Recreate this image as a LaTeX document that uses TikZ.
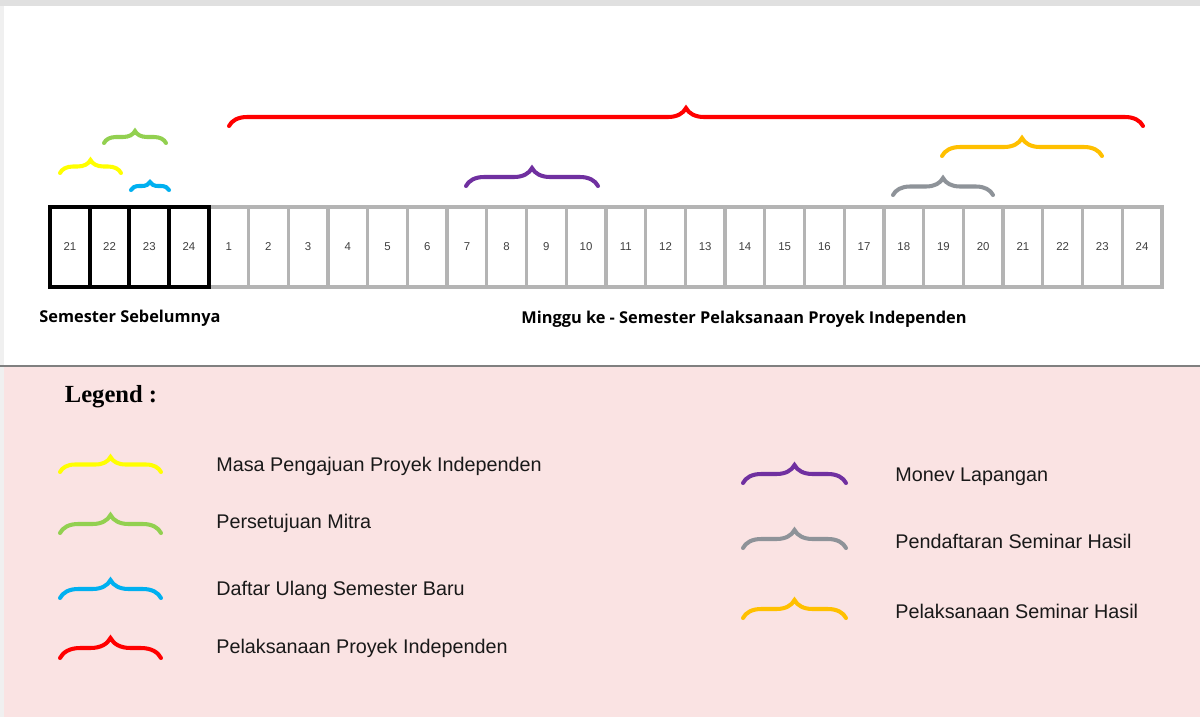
\documentclass[tikz,border=0pt]{standalone}
\usepackage{fontspec}
\setmainfont{Liberation Sans}
\newfontfamily\headfont{Open Sans}
\newfontfamily\legendfont{Liberation Serif}
\usetikzlibrary{decorations.pathreplacing,positioning}

\definecolor{cellgray}{HTML}{B4B4B4}
\definecolor{legendbg}{HTML}{FAE3E3}
\definecolor{brYellow}{HTML}{FFFF00}
\definecolor{brGreen}{HTML}{92D050}
\definecolor{brBlue}{HTML}{00B0F0}
\definecolor{brRed}{HTML}{FF0000}
\definecolor{brPurple}{HTML}{7030A0}
\definecolor{brGray}{HTML}{8E9399}
\definecolor{brGold}{HTML}{FFC000}

\tikzset{
  cell/.style={draw=cellgray, line width=1.9pt, outer sep=0pt, inner sep=0pt,
    minimum width=0.794cm, minimum height=1.6cm,
    font=\fontsize{6.5}{8}\selectfont, text=black!75},
  oldcell/.style={cell, draw=black, line width=2.3pt},
  axislabel/.style={font=\headfont\bfseries\fontsize{9.3}{11}\selectfont},
  legtext/.style={anchor=west, inner sep=0pt, text=black!90,
    font=\fontsize{11.25}{13}\selectfont},
  bracket/.style={decorate, decoration={brace, amplitude=#1},
    line width=2.3pt, line cap=round}
}

\begin{document}
\begin{tikzpicture}[x=0.02cm, y=-0.02cm]

  \useasboundingbox (0,0) rectangle (1200,717);

  % background panels
  \fill[white] (0,0) rectangle (1200,366);
  \fill[black!12] (0,0) rectangle (1200,6);
  \fill[legendbg] (0,366) rectangle (1200,717);
  \fill[black!6] (0,6) rectangle (4,717);
  \draw[black!50, line width=1.2pt] (0,366) -- (1200,366);

  % week cells
  \foreach \n [count=\i from 0] in {1,...,24}
    \node[cell] (wk\n) at ({50+39.71*(\i+4.5)},247) {\n};
  \foreach \n [count=\i from 0] in {21,...,24}
    \node[oldcell] (old\n) at ({50+39.71*(\i+0.5)},247) {\n};

  \node[axislabel] (prevsem) at (130,318) {Semester Sebelumnya};
  \node[axislabel] (cursem) at (744,319)
    {Minggu ke - Semester Pelaksanaan Proyek Independen};

  % braces over the weeks
  \draw[bracket=0.26cm, brYellow] (60,173) -- (121,173);
  \draw[bracket=0.24cm, brGreen] (104,143) -- (166,143);
  \draw[bracket=0.16cm, brBlue] (131,190) -- (169,190);
  \draw[bracket=0.36cm, brRed] (229,126) -- (1143,126);
  \draw[bracket=0.36cm, brPurple] (466,186) -- (598,186);
  \draw[bracket=0.34cm, brGray] (893,195) -- (993,195);
  \draw[bracket=0.36cm, brGold] (942,156) -- (1102,156);

  % legend
  \node[font=\legendfont\bfseries\fontsize{14}{16}\selectfont] (legtitle)
    at (111,397) {Legend :};

  \draw[bracket=0.30cm, brYellow] (60,472) -- (161,472);
  \draw[bracket=0.36cm, brGreen] (60,533) -- (161,533);
  \draw[bracket=0.36cm, brBlue] (60,598) -- (161,598);
  \draw[bracket=0.40cm, brRed] (60,658) -- (161,658);
  \node[legtext] (legA) at (216,466) {Masa Pengajuan Proyek Independen};
  \node[legtext] (legB) at (216,523) {Persetujuan Mitra};
  \node[legtext] (legC) at (216,590) {Daftar Ulang Semester Baru};
  \node[legtext] (legD) at (216,648) {Pelaksanaan Proyek Independen};

  \draw[bracket=0.36cm, brPurple] (743,483) -- (846,483);
  \draw[bracket=0.36cm, brGray] (743,548) -- (846,548);
  \draw[bracket=0.36cm, brGold] (743,618) -- (846,618);
  \node[legtext] (legE) at (895,477) {Monev Lapangan};
  \node[legtext] (legF) at (895,541) {Pendaftaran Seminar Hasil};
  \node[legtext] (legG) at (895,611) {Pelaksanaan Seminar Hasil};

\end{tikzpicture}
\end{document}
